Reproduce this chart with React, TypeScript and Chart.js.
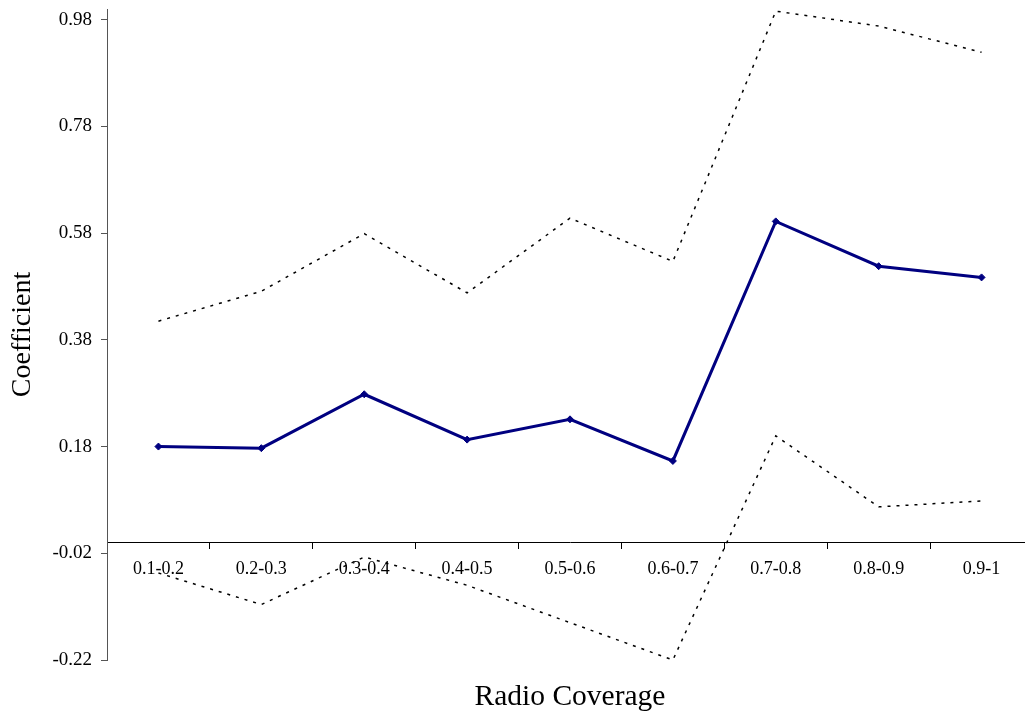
import React, { useEffect, useRef } from "react";
import { Chart, registerables } from "chart.js";

Chart.register(...registerables);

const categories = ["0.1-0.2", "0.2-0.3", "0.3-0.4", "0.4-0.5", "0.5-0.6", "0.6-0.7", "0.7-0.8", "0.8-0.9", "0.9-1"];
const coefficient = [0.18, 0.177, 0.278, 0.193, 0.231, 0.153, 0.602, 0.518, 0.497];
const upperBound = [0.415, 0.471, 0.579, 0.468, 0.608, 0.527, 0.996, 0.968, 0.919];
const lowerBound = [-0.057, -0.116, -0.027, -0.08, -0.15, -0.22, 0.2, 0.067, 0.078];
const yTickValues = [-0.22, -0.02, 0.18, 0.38, 0.58, 0.78, 0.98];

const FONT = "'Liberation Serif', 'Times New Roman', serif";

export default function App() {
  const canvasRef = useRef<HTMLCanvasElement | null>(null);

  useEffect(() => {
    const canvas = canvasRef.current;
    if (!canvas) return;
    const chart = new Chart(canvas, {
      type: "line",
      data: {
        labels: categories,
        datasets: [
          {
            label: "Coefficient",
            data: coefficient,
            borderColor: "#000080",
            backgroundColor: "#000080",
            borderWidth: 3,
            pointStyle: "rectRot",
            pointRadius: 3.5,
            pointBorderWidth: 1,
            pointBackgroundColor: "#000080",
            pointBorderColor: "#000080",
            tension: 0,
            fill: false,
          },
          {
            label: "Upper",
            data: upperBound,
            borderColor: "#000000",
            borderWidth: 1.5,
            borderDash: [3, 6],
            pointRadius: 0,
            tension: 0,
            fill: false,
          },
          {
            label: "Lower",
            data: lowerBound,
            borderColor: "#000000",
            borderWidth: 1.5,
            borderDash: [3, 6],
            pointRadius: 0,
            tension: 0,
            fill: false,
          },
        ],
      },
      options: {
        responsive: false,
        animation: false,
        maintainAspectRatio: false,
        layout: { padding: { top: 9, left: 0, right: 0, bottom: 0 } },
        plugins: {
          legend: { display: false },
          tooltip: { enabled: false },
          title: {
            display: true,
            position: "bottom",
            fullSize: false,
            text: "Radio Coverage",
            color: "#000",
            font: { family: FONT, size: 29.5, weight: "normal" },
            padding: { top: 19.5, bottom: 5.1 },
          },
        },
        scales: {
          x: {
            type: "category",
            position: { y: 0 } as any,
            offset: true,
            grid: {
              offset: true,
              drawOnChartArea: false,
              drawTicks: true,
              tickLength: 6,
              color: "#000",
            },
            border: { color: "#000", width: 1 },
            ticks: {
              color: "#000",
              font: { family: FONT, size: 18 },
              padding: 10,
              maxRotation: 0,
              autoSkip: false,
            },
          },
          y: {
            type: "linear",
            position: "left",
            min: -0.22,
            max: 1.0,
            afterBuildTicks: (scale: any) => {
              scale.ticks = yTickValues.map((v) => ({ value: v }));
            },
            afterFit: (scale: any) => {
              scale.width = 107;
              scale.paddingTop = 0;
              scale.paddingBottom = 0;
            },
            grid: {
              drawOnChartArea: false,
              drawTicks: true,
              tickLength: 6,
              color: "#555",
            },
            border: { color: "#555", width: 1 },
            ticks: {
              color: "#000",
              font: { family: FONT, size: 19 },
              padding: 9,
              callback: (v: any) => Number(v).toFixed(2),
            },
            title: {
              display: true,
              text: "Coefficient",
              color: "#000",
              font: { family: FONT, size: 28 },
              padding: { top: 6.2, bottom: 0 },
            },
          },
        },
      },
    });
    return () => chart.destroy();
  }, []);

  return (
    <div
      style={{
        position: "fixed",
        left: 0,
        top: 0,
        width: 1025,
        height: 720,
        overflow: "hidden",
        background: "#fff",
      }}
    >
      <canvas ref={canvasRef} width={1038} height={720} style={{ display: "block" }} />
    </div>
  );
}
